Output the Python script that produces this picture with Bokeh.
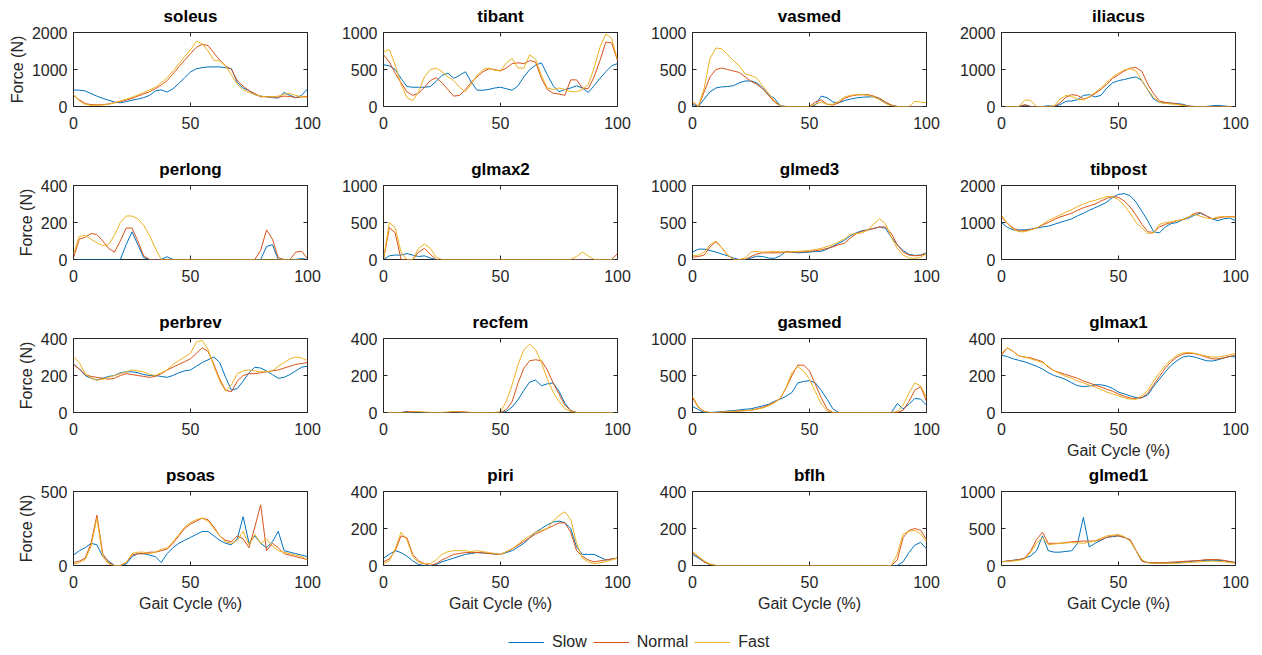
from bokeh.plotting import figure
from bokeh.layouts import column, row
from bokeh.models import FixedTicker, LinearAxis, Range1d, Legend, LegendItem, Spacer
from bokeh.embed import file_html
from bokeh.resources import INLINE

# ---------------- data ----------------
GAIT = [0, 2.5, 5, 7.5, 10, 12.5, 15, 17.5, 20, 22.5,
        25, 27.5, 30, 32.5, 35, 37.5, 40, 42.5, 45, 47.5,
        50, 52.5, 55, 57.5, 60, 62.5, 65, 67.5, 70, 72.5,
        75, 77.5, 80, 82.5, 85, 87.5, 90, 92.5, 95, 97.5, 100]

SPEEDS = ["Slow", "Normal", "Fast"]
NAMES = ["soleus", "tibant", "vasmed", "iliacus",
         "perlong", "glmax2", "glmed3", "tibpost",
         "perbrev", "recfem", "gasmed", "glmax1",
         "psoas", "piri", "bflh", "glmed1"]
YMAX = [2000, 1000, 1000, 2000, 400, 1000, 1000, 2000,
        400, 400, 1000, 400, 500, 400, 400, 1000]
YTICKS = [[0, 1000, 2000], [0, 500, 1000], [0, 500, 1000], [0, 1000, 2000],
          [0, 200, 400], [0, 500, 1000], [0, 500, 1000], [0, 1000, 2000],
          [0, 200, 400], [0, 200, 400], [0, 500, 1000], [0, 200, 400],
          [0, 500], [0, 200, 400], [0, 200, 400], [0, 500, 1000]]
XTICKS = [0, 50, 100]

SOLEUS_SLOW = [450, 440, 420, 350, 280, 220, 170, 120, 100, 130,
               170, 200, 240, 300, 420, 450, 390, 480, 620, 780,
               930, 1020, 1050, 1070, 1070, 1070, 1050, 1020, 650, 500,
               430, 320, 280, 260, 240, 230, 380, 300, 240, 300, 480]
SOLEUS_NORMAL = [300, 180, 80, 50, 45, 50, 70, 100, 130, 170,
                 220, 280, 340, 400, 480, 580, 700, 880, 1070, 1250,
                 1430, 1600, 1680, 1650, 1450, 1250, 1100, 1000, 700, 550,
                 430, 350, 260, 270, 260, 250, 280, 270, 240, 260, 270]
SOLEUS_FAST = [330, 150, 60, 30, 30, 40, 60, 100, 150, 200,
               250, 310, 380, 450, 520, 640, 780, 960, 1150, 1350,
               1530, 1760, 1700, 1500, 1250, 1230, 1100, 850, 600, 450,
               380, 320, 280, 260, 260, 280, 330, 350, 300, 260, 250]

TIBANT_SLOW = [565, 550, 500, 380, 270, 260, 260, 260, 270, 340,
               420, 450, 380, 420, 470, 330, 220, 220, 230, 250,
               260, 240, 220, 280, 400, 500, 560, 590, 430, 280,
               200, 230, 250, 280, 250, 190, 280, 380, 470, 550, 580]
TIBANT_NORMAL = [700, 600, 450, 320, 200, 150, 180, 260, 350, 390,
                 320, 230, 140, 150, 230, 330, 400, 470, 510, 500,
                 480, 520, 580, 590, 580, 620, 600, 380, 230, 180,
                 170, 150, 360, 360, 250, 240, 400, 620, 870, 860, 620]
TIBANT_FAST = [740, 770, 560, 300, 120, 80, 200, 400, 500, 520,
               470, 400, 350, 260, 200, 300, 420, 500, 520, 490,
               480, 590, 650, 520, 520, 700, 640, 420, 250, 230,
               250, 230, 200, 200, 230, 300, 520, 800, 980, 920, 630]

VASMED_SLOW = [30, 0, 100, 200, 250, 265, 270, 280, 320, 345,
               345, 320, 250, 160, 110, 10, 0, 0, 0, 0,
               0, 20, 140, 120, 60, 50, 80, 100, 115, 125,
               130, 130, 100, 50, 15, 0, 0, 0, 0, 0, 0]
VASMED_NORMAL = [60, 0, 200, 400, 500, 520, 500, 480, 460, 400,
                 340, 300, 240, 150, 60, 5, 0, 0, 0, 0,
                 0, 60, 90, 30, 20, 50, 110, 140, 155, 160,
                 160, 140, 110, 60, 20, 0, 0, 0, 0, 0, 0]
VASMED_FAST = [70, 0, 250, 650, 790, 780, 700, 620, 550, 440,
               420, 380, 280, 180, 80, 5, 0, 0, 0, 0,
               0, 30, 60, 30, 30, 70, 130, 150, 160, 160,
               150, 130, 90, 40, 10, 0, 0, 0, 70, 60, 50]

ILIACUS_SLOW = [0, 0, 0, 0, 40, 0, 0, 0, 20, 0,
                50, 140, 150, 180, 300, 320, 260, 300, 500, 640,
                700, 730, 770, 800, 700, 450, 200, 110, 100, 90,
                80, 60, 10, 0, 0, 0, 20, 30, 15, 0, 0]
ILIACUS_NORMAL = [0, 0, 0, 0, 50, 0, 0, 0, 0, 0,
                  100, 250, 320, 300, 200, 250, 350, 460, 600, 760,
                  860, 960, 1040, 1050, 950, 600, 350, 150, 110, 90,
                  70, 40, 10, 0, 0, 0, 0, 0, 0, 0, 0]
ILIACUS_FAST = [0, 0, 0, 0, 180, 160, 0, 0, 0, 20,
                200, 300, 270, 200, 180, 260, 380, 500, 650, 800,
                900, 990, 1020, 960, 700, 450, 250, 110, 80, 70,
                50, 30, 0, 0, 0, 0, 0, 0, 0, 0, 0]

PERLONG_SLOW = [0, 0, 0, 0, 0, 0, 0, 0, 0, 80,
                150, 80, 10, 0, 0, 0, 15, 0, 0, 0,
                0, 0, 0, 0, 0, 0, 0, 0, 0, 0,
                0, 0, 0, 70, 80, 0, 0, 0, 0, 5, 0]
PERLONG_NORMAL = [10, 110, 120, 140, 135, 100, 60, 40, 100, 170,
                  170, 100, 20, 0, 0, 0, 0, 0, 0, 0,
                  0, 0, 0, 0, 0, 0, 0, 0, 0, 0,
                  0, 0, 50, 160, 110, 10, 0, 0, 40, 45, 5]
PERLONG_FAST = [30, 125, 130, 110, 90, 75, 80, 130, 200, 235,
                235, 220, 185, 130, 60, 0, 0, 0, 0, 0,
                0, 0, 0, 0, 0, 0, 0, 0, 0, 0,
                0, 0, 0, 0, 0, 0, 0, 0, 0, 0, 0]

GLMAX2_SLOW = [0, 50, 60, 60, 80, 60, 40, 50, 20, 0,
               0, 0, 0, 0, 0, 0, 0, 0, 0, 0,
               0, 0, 0, 0, 0, 0, 0, 0, 0, 0,
               0, 0, 0, 0, 0, 0, 0, 0, 0, 0, 0]
GLMAX2_NORMAL = [0, 430, 360, 0, 0, 0, 100, 150, 70, 0,
                 0, 0, 0, 0, 0, 0, 0, 0, 0, 0,
                 0, 0, 0, 0, 0, 0, 0, 0, 0, 0,
                 0, 0, 0, 0, 0, 0, 0, 0, 0, 0, 80]
GLMAX2_FAST = [0, 500, 430, 100, 0, 0, 150, 210, 150, 30,
               0, 0, 0, 0, 0, 0, 0, 0, 0, 0,
               0, 0, 0, 0, 0, 0, 0, 0, 0, 0,
               0, 0, 0, 40, 100, 50, 0, 0, 0, 0, 0]

GLMED3_SLOW = [100, 140, 140, 120, 100, 75, 50, 20, 0, 0,
               20, 45, 40, 20, 15, 50, 110, 100, 90, 95,
               100, 110, 110, 140, 180, 220, 260, 320, 360, 390,
               400, 420, 440, 420, 300, 200, 120, 70, 55, 60, 90]
GLMED3_NORMAL = [30, 40, 60, 170, 240, 160, 60, 0, 0, 0,
                 40, 75, 90, 90, 90, 90, 100, 100, 100, 105,
                 110, 120, 130, 150, 170, 200, 220, 290, 350, 380,
                 400, 420, 440, 440, 350, 200, 100, 60, 50, 55, 80]
GLMED3_FAST = [50, 60, 100, 200, 250, 160, 60, 0, 0, 20,
               100, 110, 100, 105, 110, 105, 100, 105, 110, 115,
               120, 135, 150, 175, 200, 240, 280, 340, 350, 360,
               400, 480, 550, 480, 300, 150, 60, 20, 15, 30, 80]

TIBPOST_SLOW = [1000, 870, 800, 800, 800, 820, 850, 880, 900, 950,
                1000, 1050, 1100, 1180, 1250, 1330, 1400, 1470, 1550, 1680,
                1760, 1780, 1720, 1550, 1300, 1050, 750, 720, 880, 970,
                1000, 1080, 1120, 1200, 1250, 1180, 1100, 1050, 1100, 1120, 1050]
TIBPOST_NORMAL = [1150, 980, 850, 770, 780, 810, 850, 930, 1000, 1080,
                  1150, 1200, 1250, 1330, 1400, 1450, 1500, 1580, 1650, 1700,
                  1680, 1580, 1420, 1200, 950, 750, 730, 880, 950, 1000,
                  1050, 1080, 1150, 1250, 1270, 1180, 1100, 1120, 1150, 1160, 1150]
TIBPOST_FAST = [1200, 970, 820, 750, 750, 800, 850, 950, 1050, 1130,
                1200, 1280, 1350, 1430, 1500, 1560, 1600, 1650, 1700, 1700,
                1620, 1450, 1250, 1000, 850, 700, 720, 950, 1000, 1020,
                1050, 1080, 1150, 1220, 1170, 1120, 1100, 1150, 1160, 1150, 1150]

PERBREV_SLOW = [260, 235, 200, 185, 175, 185, 195, 200, 215, 220,
                220, 215, 205, 200, 200, 195, 190, 200, 215, 225,
                230, 250, 270, 285, 300, 270, 190, 120, 130, 170,
                215, 245, 240, 225, 205, 185, 190, 205, 225, 245, 250]
PERBREV_NORMAL = [260, 235, 205, 195, 190, 185, 180, 185, 200, 210,
                  205, 200, 195, 190, 195, 210, 230, 245, 260, 275,
                  290, 320, 350, 330, 260, 180, 120, 112, 170, 200,
                  210, 210, 215, 220, 225, 230, 240, 250, 260, 265, 270]
PERBREV_FAST = [300, 270, 210, 185, 175, 180, 190, 200, 210, 220,
                230, 225, 220, 205, 200, 215, 230, 260, 280, 300,
                320, 380, 390, 340, 250, 170, 115, 150, 210, 225,
                230, 225, 220, 220, 225, 250, 270, 290, 300, 295, 280]

RECFEM_SLOW = [0, 0, 0, 0, 5, 0, 0, 0, 0, 0,
               0, 0, 5, 0, 0, 0, 0, 0, 0, 0,
               0, 5, 30, 70, 120, 165, 175, 145, 155, 160,
               115, 50, 10, 0, 0, 0, 0, 0, 0, 0, 0]
RECFEM_NORMAL = [0, 0, 0, 0, 3, 5, 3, 0, 0, 0,
                 0, 0, 3, 5, 3, 0, 0, 0, 0, 0,
                 0, 15, 60, 160, 240, 280, 285, 280, 230, 160,
                 100, 40, 10, 0, 0, 0, 0, 0, 0, 0, 0]
RECFEM_FAST = [0, 0, 0, 0, 0, 3, 5, 3, 0, 0,
               0, 3, 5, 3, 0, 0, 0, 0, 0, 0,
               5, 60, 150, 260, 340, 370, 340, 270, 180, 110,
               60, 20, 5, 0, 0, 0, 0, 0, 0, 0, 0]

GASMED_SLOW = [80, 40, 0, 0, 5, 10, 20, 25, 35, 45,
               50, 70, 90, 110, 150, 180, 220, 270, 400, 420,
               430, 400, 300, 180, 50, 0, 0, 0, 0, 0,
               0, 0, 0, 0, 0, 120, 50, 110, 190, 180, 100]
GASMED_NORMAL = [200, 70, 15, 0, 0, 5, 10, 15, 20, 25,
                 30, 50, 70, 100, 140, 190, 330, 500, 640, 640,
                 560, 380, 200, 50, 0, 0, 0, 0, 0, 0,
                 0, 0, 0, 0, 0, 0, 30, 150, 300, 350, 150]
GASMED_FAST = [220, 80, 10, 0, 0, 5, 10, 15, 20, 25,
               30, 45, 60, 90, 130, 190, 340, 540, 620, 560,
               450, 280, 120, 20, 0, 0, 0, 0, 0, 0,
               0, 0, 0, 0, 0, 10, 100, 260, 400, 360, 200]

GLMAX1_SLOW = [310, 302, 290, 282, 273, 262, 250, 235, 215, 200,
               190, 178, 160, 145, 140, 143, 150, 150, 143, 130,
               110, 100, 90, 80, 80, 95, 140, 180, 220, 255,
               280, 300, 305, 300, 290, 280, 278, 285, 295, 303, 300]
GLMAX1_NORMAL = [310, 350, 330, 305, 300, 295, 285, 275, 245, 225,
                 215, 205, 195, 185, 170, 160, 148, 138, 125, 115,
                 100, 88, 78, 75, 80, 105, 150, 195, 240, 275,
                 300, 315, 320, 318, 310, 300, 290, 290, 295, 303, 310]
GLMAX1_FAST = [320, 350, 330, 305, 300, 290, 280, 270, 250, 225,
               210, 195, 185, 170, 160, 148, 138, 125, 110, 100,
               90, 80, 72, 72, 90, 120, 170, 215, 255, 285,
               310, 322, 325, 320, 312, 305, 300, 300, 305, 312, 320]

PSOAS_SLOW = [70, 100, 120, 150, 140, 60, 30, 0, 0, 10,
              60, 80, 80, 70, 60, 20, 80, 120, 150, 170,
              190, 210, 230, 230, 200, 170, 150, 140, 180, 330,
              150, 200, 150, 120, 160, 230, 100, 90, 80, 70, 60]
PSOAS_NORMAL = [20, 30, 50, 150, 340, 80, 20, 0, 0, 20,
                70, 80, 80, 90, 90, 100, 110, 150, 200, 250,
                280, 300, 320, 310, 260, 200, 170, 160, 200, 180,
                120, 260, 410, 100, 150, 120, 80, 70, 60, 50, 40]
PSOAS_FAST = [10, 20, 40, 130, 320, 60, 10, 0, 0, 20,
              80, 90, 90, 80, 90, 110, 120, 160, 210, 260,
              290, 310, 320, 300, 250, 200, 160, 150, 170, 230,
              140, 210, 150, 180, 130, 100, 90, 80, 70, 60, 40]

PIRI_SLOW = [40, 60, 80, 70, 50, 25, 5, 0, 0, 5,
             20, 30, 40, 50, 60, 65, 70, 68, 65, 62,
             60, 70, 80, 100, 120, 150, 180, 200, 220, 235,
             240, 232, 200, 100, 60, 60, 60, 45, 30, 35, 40]
PIRI_NORMAL = [20, 35, 80, 160, 150, 60, 25, 10, 0, 10,
               30, 45, 60, 65, 70, 70, 70, 68, 65, 62,
               60, 75, 90, 110, 130, 150, 170, 185, 200, 215,
               230, 230, 180, 80, 50, 30, 20, 25, 30, 35, 40]
PIRI_FAST = [10, 25, 90, 180, 140, 50, 15, 10, 10, 30,
             60, 75, 80, 80, 80, 75, 80, 75, 70, 65,
             60, 75, 90, 115, 140, 160, 180, 190, 200, 240,
             270, 290, 250, 120, 40, 20, 10, 15, 20, 30, 40]

BFLH_SLOW = [60, 40, 20, 5, 0, 0, 0, 0, 0, 0,
             0, 0, 0, 0, 0, 0, 0, 0, 0, 0,
             0, 0, 0, 0, 0, 0, 0, 0, 0, 0,
             0, 0, 0, 0, 0, 0, 20, 70, 110, 125, 90]
BFLH_NORMAL = [70, 45, 20, 5, 0, 0, 0, 0, 0, 0,
               0, 0, 0, 0, 0, 0, 0, 0, 0, 0,
               0, 0, 0, 0, 0, 0, 0, 0, 0, 0,
               0, 0, 0, 0, 0, 30, 150, 190, 200, 190, 140]
BFLH_FAST = [75, 50, 25, 8, 0, 0, 0, 0, 0, 0,
             0, 0, 0, 0, 0, 0, 0, 0, 0, 0,
             0, 0, 0, 0, 0, 0, 0, 0, 0, 0,
             0, 0, 0, 0, 0, 60, 170, 185, 190, 170, 130]

GLMED1_SLOW = [50, 60, 70, 80, 100, 130, 200, 400, 200, 180,
               180, 190, 200, 300, 650, 250, 300, 340, 380, 390,
               400, 380, 340, 200, 60, 40, 30, 30, 30, 35,
               40, 45, 50, 60, 65, 70, 70, 70, 65, 50, 40]
GLMED1_NORMAL = [50, 60, 70, 80, 100, 200, 350, 450, 300, 300,
                 300, 310, 320, 325, 330, 330, 330, 350, 380, 400,
                 400, 380, 350, 200, 60, 40, 40, 40, 40, 45,
                 50, 55, 60, 65, 70, 80, 80, 80, 70, 55, 40]
GLMED1_FAST = [50, 55, 60, 70, 90, 180, 300, 380, 280, 290,
               300, 305, 310, 305, 300, 315, 330, 370, 400, 410,
               420, 390, 330, 200, 80, 35, 30, 30, 30, 30,
               30, 35, 40, 45, 50, 55, 60, 55, 50, 40, 30]

SERIES = {
    "soleus": (SOLEUS_SLOW, SOLEUS_NORMAL, SOLEUS_FAST),
    "tibant": (TIBANT_SLOW, TIBANT_NORMAL, TIBANT_FAST),
    "vasmed": (VASMED_SLOW, VASMED_NORMAL, VASMED_FAST),
    "iliacus": (ILIACUS_SLOW, ILIACUS_NORMAL, ILIACUS_FAST),
    "perlong": (PERLONG_SLOW, PERLONG_NORMAL, PERLONG_FAST),
    "glmax2": (GLMAX2_SLOW, GLMAX2_NORMAL, GLMAX2_FAST),
    "glmed3": (GLMED3_SLOW, GLMED3_NORMAL, GLMED3_FAST),
    "tibpost": (TIBPOST_SLOW, TIBPOST_NORMAL, TIBPOST_FAST),
    "perbrev": (PERBREV_SLOW, PERBREV_NORMAL, PERBREV_FAST),
    "recfem": (RECFEM_SLOW, RECFEM_NORMAL, RECFEM_FAST),
    "gasmed": (GASMED_SLOW, GASMED_NORMAL, GASMED_FAST),
    "glmax1": (GLMAX1_SLOW, GLMAX1_NORMAL, GLMAX1_FAST),
    "psoas": (PSOAS_SLOW, PSOAS_NORMAL, PSOAS_FAST),
    "piri": (PIRI_SLOW, PIRI_NORMAL, PIRI_FAST),
    "bflh": (BFLH_SLOW, BFLH_NORMAL, BFLH_FAST),
    "glmed1": (GLMED1_SLOW, GLMED1_NORMAL, GLMED1_FAST),
}

# ---------------- style ----------------
FONT = "Liberation Sans"
TXT = "#262626"
COLORS = ["#0072BD", "#D95319", "#EDB120"]
FRAME_W = 234
FRAME_H = 74
TOP, BOTTOM = 29, 50


def style_axis(ax, ticks, labels=True):
    ax.ticker = FixedTicker(ticks=ticks)
    ax.major_tick_in = 4
    ax.major_tick_out = 0
    ax.minor_tick_in = 0
    ax.minor_tick_out = 0
    ax.axis_line_color = None
    ax.major_tick_line_color = TXT
    ax.major_label_text_font = FONT
    if labels:
        ax.major_label_text_color = TXT
        ax.major_label_text_font_size = "16px"
        ax.major_label_standoff = 6
    else:
        # tick marks only: the labels are not drawn
        ax.major_label_text_color = None
        ax.major_label_text_font_size = "0px"
        ax.major_label_standoff = 0
    ax.axis_label_text_font = FONT
    ax.axis_label_text_font_size = "16px"
    ax.axis_label_text_font_style = "normal"
    ax.axis_label_text_color = TXT


def make_panel(i):
    r, c = divmod(i, 4)
    name = NAMES[i]
    left = 73 if c == 0 else 60
    right = 16 if c == 0 else 15
    p = figure(frame_width=FRAME_W, frame_height=FRAME_H,
               x_range=Range1d(0, 100), y_range=Range1d(0, YMAX[i]),
               output_backend="svg", toolbar_location=None,
               min_border_left=left, min_border_right=right,
               min_border_top=TOP, min_border_bottom=BOTTOM,
               title=name)
    p.title.align = "center"
    p.title.text_font = FONT
    p.title.text_font_size = "17px"
    p.title.text_font_style = "bold"
    p.title.text_color = "black"
    p.title.standoff = 0
    p.grid.visible = False
    p.outline_line_color = TXT
    p.outline_line_alpha = 1
    p.background_fill_color = "white"
    p.border_fill_color = "white"

    style_axis(p.xaxis[0], XTICKS)
    style_axis(p.yaxis[0], YTICKS[i])
    p.xaxis[0].major_label_standoff = 10
    p.xaxis[0].axis_label_standoff = 4
    p.yaxis[0].axis_label_standoff = 3
    if c == 0:
        p.yaxis[0].axis_label = "Force (N)"
    if r == 3 or name == "glmax1":
        p.xaxis[0].axis_label = "Gait Cycle (%)"

    # box ticks on the right and top edges
    ax_r = LinearAxis()
    style_axis(ax_r, YTICKS[i], labels=False)
    p.add_layout(ax_r, "right")
    ax_t = LinearAxis()
    style_axis(ax_t, XTICKS, labels=False)
    p.add_layout(ax_t, "above")
    # invisible gap between the frame and the title
    ax_gap = LinearAxis()
    style_axis(ax_gap, XTICKS, labels=False)
    ax_gap.major_tick_in = 0
    ax_gap.major_tick_out = 7
    ax_gap.major_tick_line_color = None
    p.add_layout(ax_gap, "above")

    for vals, col in zip(SERIES[name], COLORS):
        p.line(GAIT, vals, line_color=col, line_width=1)
    return p


panels = [make_panel(i) for i in range(16)]
rows = [row(*panels[r * 4:(r + 1) * 4]) for r in range(4)]

# legend strip: the soleus series drawn out of view, used only as legend keys
lf = figure(width=1250, height=39, output_backend="svg", toolbar_location=None,
            x_range=Range1d(0, 1), y_range=Range1d(-2, -1),
            x_axis_location=None, y_axis_location=None, min_border=0)
lf.grid.visible = False
lf.outline_line_color = None
items = []
for s, vals, col in zip(SPEEDS, SERIES["soleus"], COLORS):
    rr = lf.line(GAIT, vals, line_color=col, line_width=1)
    items.append(LegendItem(label=s, renderers=[rr]))
leg = Legend(items=items, orientation="horizontal", location=(508, 3),
             border_line_color=None, background_fill_alpha=0,
             padding=0, margin=0, spacing=6, glyph_width=36, glyph_height=18,
             label_standoff=8, label_text_font=FONT, label_text_font_size="16px",
             label_text_color=TXT)
lf.add_layout(leg, "center")

layout = column(Spacer(height=3), *rows, lf)
open("out.html", "w").write(file_html(layout, INLINE))
